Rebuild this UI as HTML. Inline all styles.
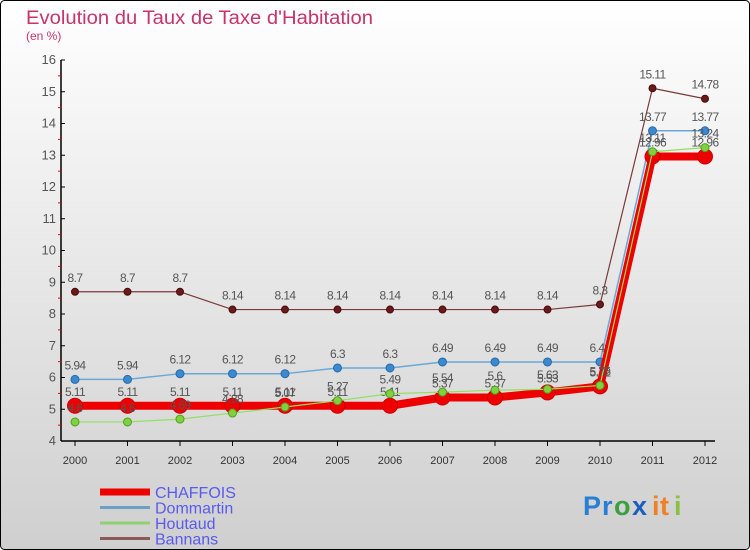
<!DOCTYPE html>
<html><head><meta charset="utf-8">
<style>
body{margin:0;padding:0;}
#wrap{position:relative;width:750px;height:550px;overflow:hidden;}
svg text{font-family:"Liberation Sans",sans-serif;}
</style></head>
<body>
<div id="wrap">
<svg id="chart" width="750" height="550" viewBox="0 0 750 550" xmlns="http://www.w3.org/2000/svg">
<defs>
<linearGradient id="bg" x1="0" y1="0" x2="0" y2="1">
<stop offset="0" stop-color="#ffffff"/>
<stop offset="1" stop-color="#cfcfcf"/>
</linearGradient>
</defs>
<rect x="0.5" y="0.5" width="749" height="549" rx="4" fill="url(#bg)" stroke="#000" stroke-width="1"/>
<text x="26" y="24" font-size="19" fill="#c8336a" textLength="347" lengthAdjust="spacingAndGlyphs">Evolution du Taux de Taxe d'Habitation</text>
<text x="26" y="40" font-size="12" fill="#c8336a">(en %)</text>
<g id="axes"></g>
<g id="series"></g>
<g id="legend"></g>
<g font-size="27" font-weight="bold">
<text x="583" y="515" fill="#2a7fd4">P</text>
<text x="602" y="515" fill="#2a7fd4">r</text>
<text x="614" y="515" fill="#3aa040">o</text>
<text x="632" y="515" fill="#1a5fc0">x</text>
<text x="652" y="515" fill="#f08020">i</text>
<text x="660" y="515" fill="#f08020">t</text>
<text x="674" y="515" fill="#8ac040">i</text>
</g>
</svg>
</div>
<script>
const years = [2000,2001,2002,2003,2004,2005,2006,2007,2008,2009,2010,2011,2012];
const yTicks = [4,5,6,7,8,9,10,11,12,13,14,15,16];
const chaffois = [5.11,5.11,5.11,5.11,5.11,5.11,5.11,5.37,5.37,5.53,5.72,12.96,12.96];
const dommartin = [5.94,5.94,6.12,6.12,6.12,6.3,6.3,6.49,6.49,6.49,6.49,13.77,13.77];
const houtaud = [4.6,4.6,4.69,4.88,5.07,5.27,5.49,5.54,5.6,5.63,5.75,13.11,13.24];
const bannans = [8.7,8.7,8.7,8.14,8.14,8.14,8.14,8.14,8.14,8.14,8.3,15.11,14.78];
const seriesNames = ["CHAFFOIS","Dommartin","Houtaud","Bannans"];

const NS="http://www.w3.org/2000/svg";
function X(i){return 75+i*52.5;}
function Y(v){return 441-(v-4)*31.75;}
function mk(tag,attrs,parent){const e=document.createElementNS(NS,tag);for(const k in attrs)e.setAttribute(k,attrs[k]);parent.appendChild(e);return e;}

const axes=document.getElementById('axes');
const yl=mk('line',{x1:61,y1:Y(16),x2:61,y2:Y(4),stroke:'#000','stroke-width':1.5},axes);


const xl=mk('line',{x1:61,y1:441,x2:715,y2:441,stroke:'#000','stroke-width':1.5},axes);


yTicks.forEach(v=>{
  mk('line',{x1:61,y1:Y(v),x2:65,y2:Y(v),stroke:'#000'},axes);
  if(v<16) mk('line',{x1:58,y1:Y(v+0.5),x2:61,y2:Y(v+0.5),stroke:'#e00'},axes);
  const t=mk('text',{x:56,y:Y(v)+4,'font-size':13,fill:'#555','text-anchor':'end'},axes);
  t.textContent=v;
  
  
});
years.forEach((yr,i)=>{
  mk('line',{x1:X(i),y1:441,x2:X(i),y2:446,stroke:'#000'},axes);
  const t=mk('text',{x:X(i),y:464,'font-size':11,fill:'#333','text-anchor':'middle'},axes);
  t.textContent=yr;
  
  
});

const sg=document.getElementById('series');
function drawSeries(data,name,color,lw,r,fill,stroke){
  const g=mk('g',{},sg);
  
  
  const pts=data.map((v,i)=>X(i)+','+Y(v)).join(' ');
  mk('polyline',{points:pts,fill:'none',stroke:color,'stroke-width':lw,'stroke-linejoin':'round'},g);
  data.forEach((v,i)=>{
    const c=mk('circle',{cx:X(i),cy:Y(v),r:r,fill:fill,stroke:stroke,'stroke-width':1},g);
    
    
    const t=mk('text',{x:X(i),y:Y(v)-10,'font-size':12,fill:'#555','text-anchor':'middle','letter-spacing':'-0.6'},g);
    t.textContent=v;
    
    
  });
}
drawSeries(bannans,'bannans','#7a3a3a',1.2,3.5,'#6a1a1a','#4a0a0a');
drawSeries(dommartin,'dommartin','#6aa8d8',1.5,4,'#3a8ad0','#2a6aa8');
drawSeries(chaffois,'chaffois','#ee0000',8,7.5,'#ee0000','#cc0000');
drawSeries(houtaud,'houtaud','#90e060',1.2,4,'#80d040','#50a020');

const lg=document.getElementById('legend');
const lcol=['#ee0000','#6aa0c8','#90d070','#8a5a5a'];
const lw=[7,3,3,3];
seriesNames.forEach((n,i)=>{
  const y=492+i*15.5;
  const g=mk('g',{},lg);
  
  
  mk('line',{x1:100,y1:y,x2:150,y2:y,stroke:lcol[i],'stroke-width':lw[i]},g);
  const t=mk('text',{x:155,y:y+6,'font-size':16,fill:'#5a5aee'},g);
  t.textContent=n;
});
</script>
</body></html>
